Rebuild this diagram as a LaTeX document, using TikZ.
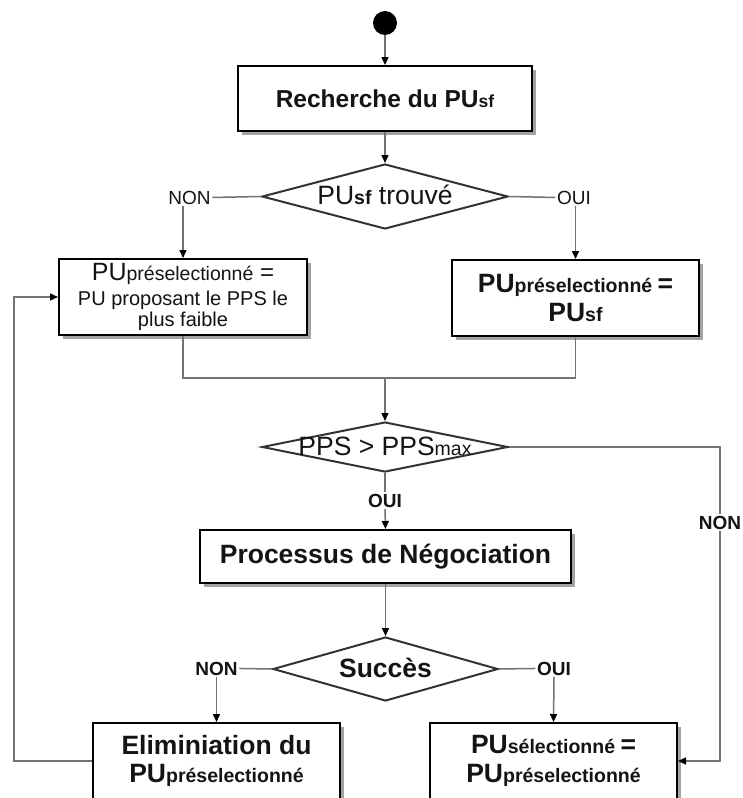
\documentclass[tikz,border=0pt]{standalone}
\usepackage{fontspec}
\setmainfont{Liberation Sans}
\usetikzlibrary{arrows.meta,shapes.geometric,shadows}
\newcommand\subt[1]{{\fontsize{19.5}{22}\selectfont #1}}
\begin{document}
\begin{tikzpicture}[x=1pt,y=-1pt,
 conn/.style={draw=black!55, line width=1.5pt},
 arr/.style={conn, -{Triangle[length=8pt,width=7pt,color=black]}},
 box/.style={draw=black, line width=2pt, fill=white, rectangle, inner sep=0pt, align=center, text=black!92,
   drop shadow={shadow xshift=4pt,shadow yshift=-4pt,fill=black!40,opacity=0.9}},
 dia/.style={draw=black!80, line width=2pt, fill=white, diamond, inner sep=0pt},
 big/.style={font=\fontsize{26.5}{29}\selectfont},
 bigb/.style={font=\bfseries\fontsize{26.5}{28.5}\selectfont},
 lbl/.style={font=\fontsize{19}{21}\selectfont, inner sep=1.5pt, anchor=base, text=black!92},
 lblb/.style={font=\bfseries\fontsize{19}{21}\selectfont, inner sep=1.5pt, anchor=base, text=black!92},
]
\useasboundingbox[fill=white] (0,0) rectangle (742,798);

% start
\node[circle, fill=black, minimum size=24pt, inner sep=0pt] (start) at (385,23) {};

% boxes
\node[box, font=\bfseries\fontsize{24.5}{27}\selectfont, minimum width=294pt, minimum height=65pt] (b1) at (385,98.5)
  {Recherche du PU{\fontsize{17.5}{20}\selectfont sf}};
\node[box, font=\fontsize{20}{21}\selectfont, minimum width=248pt, minimum height=76pt] (b2) at (183,297)
  {{\fontsize{25}{27}\selectfont PU}\subt{préselectionné}{\fontsize{24}{26}\selectfont\ =}\\[4pt]PU proposant le PPS le\\plus faible};
\node[box, font=\bfseries\fontsize{26.5}{29}\selectfont, minimum width=247pt, minimum height=76pt] (b3) at (575.5,298)
  {PU\subt{préselectionné }=\\PU\subt{sf}};
\node[box, bigb, minimum width=371pt, minimum height=53pt] (b4) at (385.5,556.5) {Processus de Négociation};
\node[box, font=\bfseries\fontsize{26.5}{28}\selectfont, minimum width=247pt, minimum height=76pt] (b5) at (216.5,761)
  {Eliminiation du\\PU\subt{préselectionné}};
\node[box, font=\bfseries\fontsize{26.5}{28.5}\selectfont, minimum width=247pt, minimum height=76pt] (b6) at (553.5,761)
  {PU\subt{sélectionné }=\\PU\subt{préselectionné}};

% decisions
\node[dia, minimum width=246pt, minimum height=65pt] (d1) at (385,196.5) {};
\node[big, anchor=base, inner sep=0pt, text=black!92] (t1) at (385,204) {PU\subt{\bfseries sf} trouvé};
\node[dia, minimum width=246pt, minimum height=50pt] (d2) at (385,447) {};
\node[big, anchor=base, inner sep=0pt, text=black!92] (t2) at (385,455) {PPS > PPS\subt{max}};
\node[dia, minimum width=225pt, minimum height=64pt] (d3) at (385.5,669) {};
\node[bigb, anchor=base, inner sep=0pt, text=black!92] (t3) at (385.5,677) {Succès};

% labels
\node[lbl] (non1) at (189.5,204) {NON};
\node[lbl] (oui1) at (574,204) {OUI};
\node[lblb] (oui2) at (385,507) {OUI};
\node[lblb] (non2) at (720,529) {NON};
\node[lblb] (non3) at (216.5,675) {NON};
\node[lblb] (oui3) at (554,675) {OUI};

\coordinate (m) at (385,378);
\coordinate (fb) at (14,761);

% connectors
\draw[arr] (start) -- (b1.north);
\draw[arr] (b1.south) -- (d1.north);
\draw[conn] (d1.west) -- (non1.east);
\draw[arr] (non1.south -| b2.north) -- (b2.north);
\draw[conn] (d1.east) -- (oui1.west);
\draw[arr] (oui1.south -| b3.north) -- (b3.north);
\draw[conn] (b2.south) |- (m) -| (b3.south);
\draw[arr] (m) -- (d2.north);
\draw[conn] (d2.south) -- (oui2.north);
\draw[arr] (oui2.south) -- (b4.north);
\draw[conn] (d2.east) -| (non2.north);
\draw[arr] (non2.south) |- (b6.east);
\draw[arr] (b4.south) -- (d3.north);
\draw[conn] (d3.west) -- (non3.east);
\draw[arr] (non3.south) -- (b5.north);
\draw[conn] (d3.east) -- (oui3.west);
\draw[arr] (oui3.south) -- (b6.north);
\draw[arr] (b5.west) -- (fb) |- (b2.west);
\end{tikzpicture}
\end{document}
